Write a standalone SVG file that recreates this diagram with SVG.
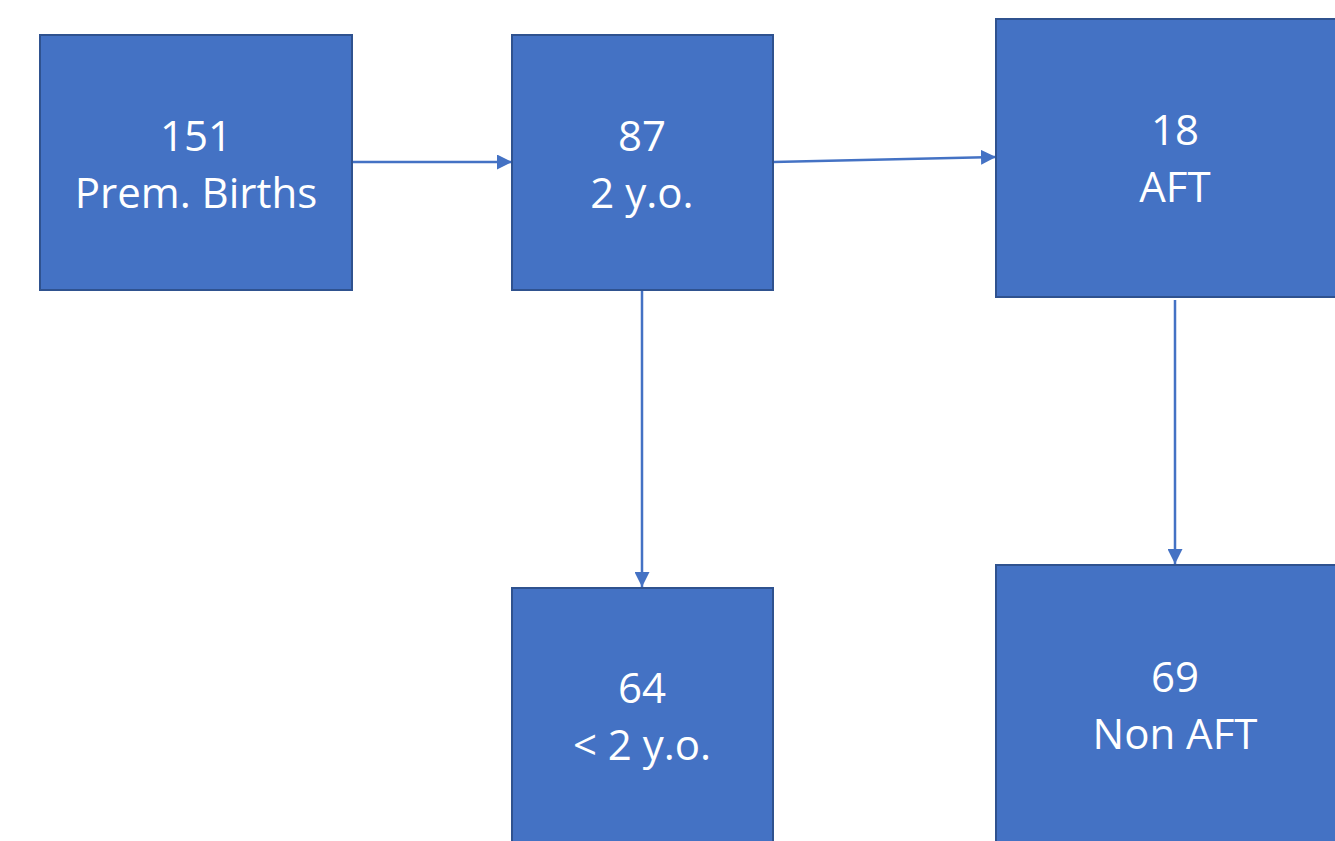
<svg xmlns="http://www.w3.org/2000/svg" width="1335" height="841" viewBox="0 0 1335 841">
<defs>
<style>
.box{fill:#4472C4;stroke:#2F528F;stroke-width:2}
.t{font-family:"Open Sans","Noto Sans",sans-serif;font-size:42px;fill:#FFFFFF;text-anchor:middle}
.c{stroke:#4472C4;stroke-width:2.5;fill:none}
</style>
<marker id="ah" viewBox="0 0 10 10" refX="10" refY="5" markerWidth="6" markerHeight="6" markerUnits="strokeWidth" orient="auto">
<path d="M0,0 L10,5 L0,10 Z" fill="#4472C4"/>
</marker>
</defs>
<rect width="1335" height="841" fill="#FFFFFF"/>
<g id="connectors">
<line class="c" x1="352" y1="162" x2="512" y2="162" marker-end="url(#ah)"/>
<line class="c" x1="773" y1="162" x2="996" y2="157" marker-end="url(#ah)"/>
<line class="c" x1="642" y1="291" x2="642" y2="587" marker-end="url(#ah)"/>
<line class="c" x1="1175" y1="300" x2="1175" y2="564" marker-end="url(#ah)"/>
</g>
<g id="n151">
<rect class="box" x="40" y="35" width="312" height="255"/>
<text class="t" x="196" y="151">151</text>
<text class="t" x="196" y="208">Prem. Births</text>
</g>
<g id="n87">
<rect class="box" x="512" y="35" width="261" height="255"/>
<text class="t" x="642" y="151">87</text>
<text class="t" x="642" y="208">2 y.o.</text>
</g>
<g id="n18">
<rect class="box" x="996" y="19" width="358" height="278"/>
<text class="t" x="1175" y="145">18</text>
<text class="t" x="1175" y="202">AFT</text>
</g>
<g id="n64">
<rect class="box" x="512" y="588" width="261" height="270"/>
<text class="t" x="642" y="703">64</text>
<text class="t" x="642" y="760">&lt; 2 y.o.</text>
</g>
<g id="n69">
<rect class="box" x="996" y="565" width="358" height="290"/>
<text class="t" x="1175" y="692">69</text>
<text class="t" x="1175" y="749">Non AFT</text>
</g>
</svg>
